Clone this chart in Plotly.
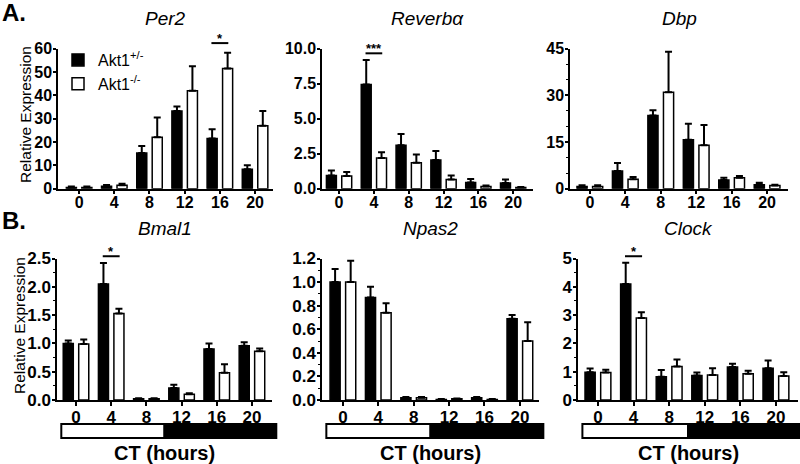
import plotly.graph_objects as go

# ---------------- data ----------------
ct_labels = ['0', '4', '8', '12', '16', '20']

per2_het = [0.5, 1.0, 15.3, 33.3, 21.5, 8.3]
per2_het_err = [0.4, 0.6, 3.0, 1.9, 4.0, 1.8]
per2_ko = [0.5, 1.5, 22.0, 42.0, 51.5, 27.0]
per2_ko_err = [0.4, 0.6, 8.5, 10.5, 6.8, 6.3]

reverb_het = [0.95, 7.45, 3.1, 2.05, 0.45, 0.4]
reverb_het_err = [0.35, 1.75, 0.8, 0.65, 0.25, 0.25]
reverb_ko = [0.9, 2.2, 1.85, 0.65, 0.15, 0.08]
reverb_ko_err = [0.3, 0.4, 0.6, 0.3, 0.08, 0.05]

dbp_het = [0.7, 5.7, 23.5, 15.7, 2.8, 1.3]
dbp_het_err = [0.4, 2.6, 1.7, 5.2, 0.7, 0.6]
dbp_ko = [0.7, 3.0, 31.0, 14.0, 3.5, 1.0]
dbp_ko_err = [0.4, 0.8, 13.0, 6.5, 0.6, 0.3]

bmal1_het = [1.0, 2.05, 0.02, 0.21, 0.9, 0.96]
bmal1_het_err = [0.05, 0.37, 0.01, 0.06, 0.1, 0.06]
bmal1_ko = [0.99, 1.53, 0.02, 0.1, 0.48, 0.86]
bmal1_ko_err = [0.08, 0.08, 0.01, 0.02, 0.15, 0.05]

npas2_het = [1.0, 0.87, 0.02, 0.005, 0.02, 0.69]
npas2_het_err = [0.11, 0.09, 0.005, 0.003, 0.005, 0.03]
npas2_ko = [1.0, 0.74, 0.02, 0.01, 0.005, 0.5]
npas2_ko_err = [0.18, 0.08, 0.005, 0.003, 0.003, 0.16]

clock_het = [0.98, 4.1, 0.82, 0.87, 1.17, 1.12]
clock_het_err = [0.13, 0.75, 0.24, 0.1, 0.11, 0.28]
clock_ko = [0.97, 2.9, 1.18, 0.88, 0.93, 0.85]
clock_ko_err = [0.1, 0.2, 0.25, 0.24, 0.1, 0.13]

per2_yticks = ['0', '10', '20', '30', '40', '50', '60']
reverb_yticks = ['0.0', '2.5', '5.0', '7.5', '10.0']
dbp_yticks = ['0', '15', '30', '45']
bmal1_yticks = ['0.0', '0.5', '1.0', '1.5', '2.0', '2.5']
npas2_yticks = ['0.0', '0.2', '0.4', '0.6', '0.8', '1.0', '1.2']
clock_yticks = ['0', '1', '2', '3', '4', '5']

gene_titles = ['Per2', 'Reverbα', 'Dbp', 'Bmal1', 'Npas2', 'Clock']
series_names = ['Akt1<sup>+/-</sup>', 'Akt1<sup>-/-</sup>']
y_title = 'Relative Expression'
x_title = 'CT (hours)'

# significance marks: (panel index, CT index, label, level in data units)
sig_marks = [(0, 4, '*', 62.4), (1, 1, '***', 9.67), (3, 1, '*', 2.54), (5, 1, '*', 5.08)]

# ---------------- style / layout ----------------
FONT = 'Liberation Sans, Arial, sans-serif'
W, H = 800, 464


def fx(p):
    return p / W


def fy(p):
    return 1 - p / H


panels = [
    dict(het=per2_het, het_err=per2_het_err, ko=per2_ko, ko_err=per2_ko_err, yt=per2_yticks,
         yr=[0, 60], minor=None, xpx=(58, 273), xr=[-0.6, 5.51], row='A'),
    dict(het=reverb_het, het_err=reverb_het_err, ko=reverb_ko, ko_err=reverb_ko_err, yt=reverb_yticks,
         yr=[0, 10], minor=None, xpx=(322, 533), xr=[-0.49, 5.57], row='A'),
    dict(het=dbp_het, het_err=dbp_het_err, ko=dbp_ko, ko_err=dbp_ko_err, yt=dbp_yticks,
         yr=[0, 45], minor=5, xpx=(570, 788), xr=[-0.56, 5.59], row='A'),
    dict(het=bmal1_het, het_err=bmal1_het_err, ko=bmal1_ko, ko_err=bmal1_ko_err, yt=bmal1_yticks,
         yr=[0, 2.5], minor=0.25, xpx=(57, 272), xr=[-0.54, 5.57], row='B'),
    dict(het=npas2_het, het_err=npas2_het_err, ko=npas2_ko, ko_err=npas2_ko_err, yt=npas2_yticks,
         yr=[0, 1.2], minor=0.1, xpx=(322, 539), xr=[-0.59, 5.54], row='B'),
    dict(het=clock_het, het_err=clock_het_err, ko=clock_ko, ko_err=clock_ko_err, yt=clock_yticks,
         yr=[0, 5], minor=0.5, xpx=(578, 798), xr=[-0.56, 5.62], row='B'),
]

row_ypx = {'A': (48.7, 188.7), 'B': (258.5, 400.0)}
title_ypx = {'A': 18, 'B': 228}
tick_size = {'A': 16, 'B': 17}
xlabel_standoff = {'A': -6, 'B': -3}

fig = go.Figure()
layout = dict(
    width=W, height=H, autosize=False,
    margin=dict(l=0, r=0, t=0, b=0, pad=0, autoexpand=False),
    paper_bgcolor='white', plot_bgcolor='white',
    barmode='group', bargap=0.12, bargroupgap=0.35,
    font=dict(family=FONT, color='black'),
    showlegend=True,
    legend=dict(x=fx(58), y=fy(43), xanchor='left', yanchor='top',
                font=dict(size=16, family=FONT, color='black'),
                bgcolor='rgba(0,0,0,0)', itemwidth=30, tracegroupgap=0),
)
annotations = []
shapes = []

for i, p in enumerate(panels):
    sfx = '' if i == 0 else str(i + 1)
    xa, ya = 'x' + sfx, 'y' + sfx
    for k, (vals, errs, fill) in enumerate([(p['het'], p['het_err'], 'black'),
                                             (p['ko'], p['ko_err'], 'white')]):
        fig.add_trace(go.Bar(
            x=ct_labels, y=vals, name=series_names[k],
            legendgroup=series_names[k], showlegend=(i == 0),
            offsetgroup=str(k),
            marker=dict(color=fill, line=dict(color='black', width=1.5)),
            error_y=dict(type='data', symmetric=False, array=errs,
                         arrayminus=[0] * len(errs), color='black',
                         thickness=2, width=3.5),
            xaxis=xa, yaxis=ya, hoverinfo='skip'))
    y0, y1 = row_ypx[p['row']]
    ts = tick_size[p['row']]
    layout['xaxis' + sfx] = dict(
        domain=[fx(p['xpx'][0]), fx(p['xpx'][1])], anchor=ya, type='category',
        range=p['xr'], showline=True, linecolor='black', linewidth=1.5,
        ticks='outside', ticklen=4, tickwidth=1.5, tickcolor='black',
        tickmode='array', tickvals=ct_labels, ticktext=['<b>%s</b>' % t for t in ct_labels],
        tickfont=dict(size=ts, family=FONT, color='black'),
        ticklabelstandoff=xlabel_standoff[p['row']],
        showgrid=False, zeroline=False, fixedrange=True, automargin=False)
    yax = dict(
        domain=[fy(y1), fy(y0)], anchor=xa, range=p['yr'],
        tickmode='array', tickvals=[float(t) for t in p['yt']],
        ticktext=['<b>%s</b>' % t for t in p['yt']],
        showline=True, linecolor='black', linewidth=1.5,
        ticks='outside', ticklen=3, tickwidth=1.5, tickcolor='black',
        tickfont=dict(size=ts, family=FONT, color='black'),
        showgrid=False, zeroline=False, fixedrange=True, ticklabelstandoff=-2,
        automargin=False)
    if p['minor']:
        yax['minor'] = dict(tickmode='linear', tick0=0, dtick=p['minor'], ticks='outside', ticklen=2,
                            tickwidth=1, tickcolor='black', showgrid=False)
    layout['yaxis' + sfx] = yax
    # gene title
    annotations.append(dict(text=gene_titles[i], xref=xa + ' domain', x=0.5,
                            yref='paper', y=fy(title_ypx[p['row']]),
                            xanchor='center', yanchor='middle', showarrow=False,
                            font=dict(size=19, family=FONT, style='italic', color='black')))
    if p['row'] == 'B':
        shapes.append(dict(type='rect', xref=xa + ' domain', yref='paper',
                           x0=0.02, x1=0.5, y0=fy(438), y1=fy(424),
                           fillcolor='white', line=dict(color='black', width=2)))
        shapes.append(dict(type='rect', xref=xa + ' domain', yref='paper',
                           x0=0.5, x1=1.02, y0=fy(438), y1=fy(424),
                           fillcolor='black', line=dict(color='black', width=2)))
        annotations.append(dict(text='<b>' + x_title + '</b>', xref=xa + ' domain', x=0.5,
                                yref='paper', y=fy(453), xanchor='center', yanchor='middle',
                                showarrow=False, font=dict(size=20, family=FONT, color='black')))

# significance bars (y given relative to axis height so they may sit above the top)
for (pi, ci, lab, lvl) in sig_marks:
    sfx = '' if pi == 0 else str(pi + 1)
    xa, ya = 'x' + sfx, 'y' + sfx
    ymax = panels[pi]['yr'][1]
    shapes.append(dict(type='line', xref=xa, yref=ya + ' domain',
                       x0=ci - 0.24, x1=ci + 0.24, y0=lvl / ymax, y1=lvl / ymax,
                       line=dict(color='black', width=2)))
    annotations.append(dict(text='<b>' + lab + '</b>', x=ci, y=lvl / ymax, xref=xa,
                            yref=ya + ' domain',
                            xanchor='center', yanchor='bottom', yshift=-5, showarrow=False,
                            font=dict(size=13, family=FONT, color='black')))

# y titles and panel letters
annotations.append(dict(text=y_title, xref='paper', yref='paper', x=fx(26), y=fy(115),
                        textangle=-90, showarrow=False, xanchor='center', yanchor='middle',
                        font=dict(size=15.5, family=FONT, color='black')))
annotations.append(dict(text=y_title, xref='paper', yref='paper', x=fx(19), y=fy(326),
                        textangle=-90, showarrow=False, xanchor='center', yanchor='middle',
                        font=dict(size=15.5, family=FONT, color='black')))
annotations.append(dict(text='<b>A.</b>', xref='paper', yref='paper', x=0, y=fy(12.5),
                        xanchor='left', yanchor='middle', showarrow=False,
                        font=dict(size=24, family=FONT, color='black')))
annotations.append(dict(text='<b>B.</b>', xref='paper', yref='paper', x=0, y=fy(220),
                        xanchor='left', yanchor='middle', showarrow=False,
                        font=dict(size=24, family=FONT, color='black')))

layout['annotations'] = annotations
layout['shapes'] = shapes
fig.update_layout(**layout)
fig.write_html('out.html', config={'displayModeBar': False},
               post_script="document.body.style.margin='0px';")
